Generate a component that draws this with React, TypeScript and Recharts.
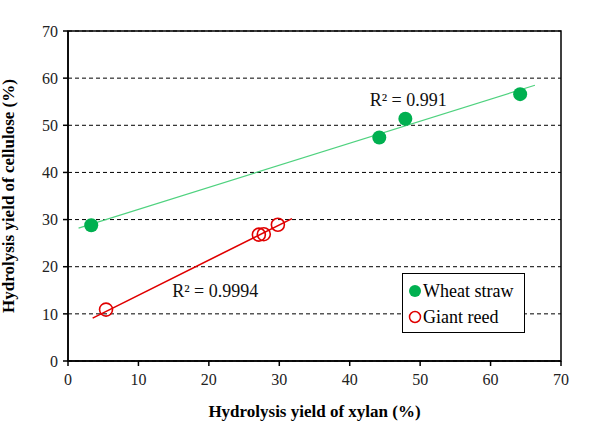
import React from 'react';
import {
  ScatterChart, Scatter, XAxis, YAxis, CartesianGrid, ReferenceLine,
  ReferenceArea, ReferenceDot, Label,
} from 'recharts';

const wheatStraw = [
  { x: 3.3, y: 28.8 },
  { x: 44.2, y: 47.4 },
  { x: 47.9, y: 51.4 },
  { x: 64.2, y: 56.6 },
];

const giantReed = [
  { x: 5.4, y: 10.9 },
  { x: 27.1, y: 26.8 },
  { x: 27.8, y: 26.9 },
  { x: 29.8, y: 28.9 },
];

// trend line end points
const wheatTrend = [{ x: 1.5, y: 28.2 }, { x: 66.3, y: 58.5 }];
const reedTrend = [{ x: 3.5, y: 9.1 }, { x: 31.8, y: 30.2 }];

const axisTicks = [0, 10, 20, 30, 40, 50, 60, 70];

const r2Labels = [
  { x: 48.3, y: 55.4, text: 'R\u00b2 = 0.991' },
  { x: 20.9, y: 14.9, text: 'R\u00b2 = 0.9994' },
];

const GREEN = '#00b050';
const RED = '#e00000';
const FONT = "'Times New Roman', Times, 'Liberation Serif', Tinos, 'Nimbus Roman', 'DejaVu Serif', 'Noto Serif', serif";

const FilledDot = (props: any) => (
  <circle cx={props.cx} cy={props.cy} r={7} fill={GREEN} />
);

const OpenDot = (props: any) => (
  <circle cx={props.cx} cy={props.cy} r={6.5} fill="none" stroke={RED} strokeWidth={1.6} />
);

const LegendBox = () => (
  <div
    style={{
      position: 'absolute',
      left: 402,
      top: 273,
      border: '1.5px solid #000',
      background: '#fff',
      width: 123,
      height: 60,
      boxSizing: 'border-box',
      fontFamily: FONT,
      fontSize: 18,
      color: '#000',
      padding: '4px 0 0 5px',
      lineHeight: 1,
    }}
  >
    <div style={{ display: 'flex', alignItems: 'center', height: 26 }}>
      <svg width={14} height={14} style={{ marginRight: 1 }}>
        <circle cx={7} cy={7} r={6} fill={GREEN} />
      </svg>
      <span>Wheat straw</span>
    </div>
    <div style={{ display: 'flex', alignItems: 'center', height: 26 }}>
      <svg width={14} height={14} style={{ marginRight: 1 }}>
        <circle cx={7} cy={7} r={5.5} fill="none" stroke={RED} strokeWidth={1.5} />
      </svg>
      <span>Giant reed</span>
    </div>
  </div>
);

export default function App() {
  const tickStyle = { fontFamily: FONT, fontSize: 16, fill: '#222' };
  return (
    <div style={{ position: 'absolute', left: 0, top: 0, width: 600, height: 440, background: '#fff', fontFamily: FONT }}>
      <ScatterChart width={600} height={440} margin={{ top: 31, right: 39, bottom: 29, left: 20 }}>
        <CartesianGrid horizontal vertical={false} stroke="#000" strokeDasharray="4 3" />
        <XAxis
          type="number"
          dataKey="x"
          domain={[0, 70]}
          ticks={axisTicks}
          interval={0}
          height={50}
          tick={tickStyle}
          tickLine={{ stroke: '#000', strokeWidth: 1.5 }}
          axisLine={{ stroke: '#000', strokeWidth: 1.5 }}
          tickSize={5}
          tickMargin={8}
        >
          <Label
            value="Hydrolysis yield of xylan (%)"
            position="insideBottom"
            offset={-6}
            style={{ fontFamily: FONT, fontSize: 17, fontWeight: 'bold', fill: '#000' }}
          />
        </XAxis>
        <YAxis
          type="number"
          dataKey="y"
          domain={[0, 70]}
          ticks={axisTicks}
          interval={0}
          width={48}
          tick={tickStyle}
          tickLine={{ stroke: '#000', strokeWidth: 1.5 }}
          axisLine={{ stroke: '#000', strokeWidth: 1.5 }}
          tickSize={5}
          tickMargin={5}
        >
          <Label
            value="Hydrolysis yield of cellulose (%)"
            angle={-90}
            position="insideLeft"
            offset={-12}
            style={{ textAnchor: 'middle', fontFamily: FONT, fontSize: 17, fontWeight: 'bold', fill: '#000' }}
          />
        </YAxis>
        <ReferenceArea x1={0} x2={70} y1={0} y2={70} fill="none" stroke="#000" strokeWidth={1.5} />
        <ReferenceLine segment={wheatTrend} stroke="#4fd27f" strokeWidth={1.2} />
        <ReferenceLine segment={reedTrend} stroke={RED} strokeWidth={1.6} />
        <Scatter name="Wheat straw" data={wheatStraw} shape={FilledDot} isAnimationActive={false} />
        <Scatter name="Giant reed" data={giantReed} shape={OpenDot} isAnimationActive={false} />
        {r2Labels.map((l) => (
          <ReferenceDot
            key={l.text}
            x={l.x}
            y={l.y}
            r={0}
            stroke="none"
            label={{ value: l.text, position: 'center', style: { fontFamily: FONT, fontSize: 18, fill: '#111' } }}
          />
        ))}
      </ScatterChart>
      <LegendBox />
    </div>
  );
}
